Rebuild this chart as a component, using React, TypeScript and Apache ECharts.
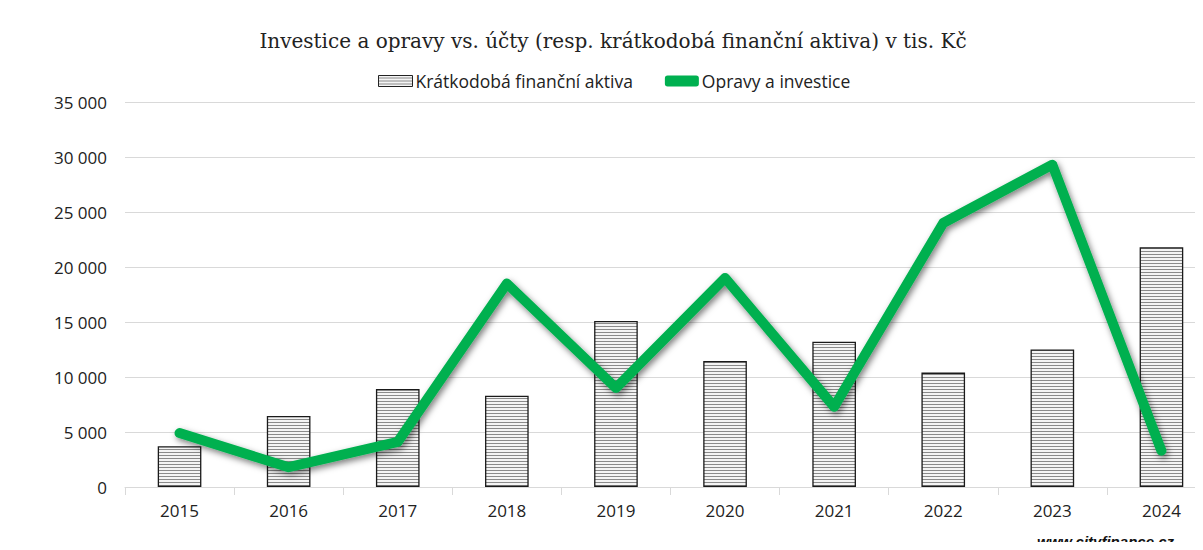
import React, { useEffect, useRef } from "react";
import * as echarts from "echarts";

const years = ["2015", "2016", "2017", "2018", "2019", "2020", "2021", "2022", "2023", "2024"];
const assets = [3700, 6450, 8900, 8300, 15100, 11450, 13200, 10400, 12500, 21800];
const investments = [4900, 1800, 4100, 18500, 9000, 19000, 7300, 24000, 29300, 3300];
const titleText = "Investice a opravy vs. účty (resp. krátkodobá finanční aktiva) v tis. Kč";
const assetsName = "Krátkodobá finanční aktiva";
const investName = "Opravy a investice";
const watermark = "www.cityfinance.cz";

function makePattern() {
  const c = document.createElement("canvas");
  c.width = 3;
  c.height = 3;
  const ctx = c.getContext("2d")!;
  ctx.fillStyle = "#f4f4f4";
  ctx.fillRect(0, 0, 3, 3);
  ctx.fillStyle = "#8a8a8a";
  ctx.fillRect(0, 2, 3, 1);
  return c;
}

export default function App() {
  const ref = useRef<HTMLDivElement>(null);
  useEffect(() => {
    const chart = echarts.init(ref.current!, null, { renderer: "svg" });
    const pattern = makePattern();
    const fmt = (v: number) => String(v).replace(/\B(?=(\d{3})+(?!\d))/g, " ");
    chart.setOption({
      animation: false,
      backgroundColor: "#ffffff",
      title: {
        text: titleText,
        left: 608,
        textAlign: "center",
        top: 26,
        textStyle: { fontFamily: "DejaVu Serif", fontSize: 20, fontWeight: "normal", color: "#222" },
      },
      legend: {
        top: 67,
        left: 373,
        itemGap: 32,
        itemWidth: 34,
        itemHeight: 11,
        textStyle: { fontFamily: "Open Sans", fontSize: 17.5, color: "#222", padding: [0, 0, 0, -2] },
        data: [
          { name: assetsName, icon: "rect", itemStyle: { color: { image: pattern, repeat: "repeat" }, borderColor: "#222", borderWidth: 1 } },
          { name: investName, icon: "roundRect", itemStyle: { color: "#00b050", borderWidth: 0 } },
        ],
      },
      grid: { left: 125, right: 9, top: 102, bottom: 63 },
      xAxis: {
        type: "category",
        data: years,
        boundaryGap: true,
        axisLine: { lineStyle: { color: "#d9d9d9" } },
        axisTick: { show: true, length: 8, lineStyle: { color: "#d9d9d9" } },
        axisLabel: { margin: 15, fontFamily: "Open Sans", fontSize: 17, color: "#222" },
      },
      yAxis: {
        type: "value",
        min: 0,
        max: 35000,
        interval: 5000,
        axisLine: { show: false },
        axisTick: { show: false },
        splitLine: { lineStyle: { color: "#d9d9d9" } },
        axisLabel: { margin: 18, fontFamily: "Open Sans", fontSize: 17, color: "#222", formatter: fmt },
      },
      series: [
        {
          name: assetsName,
          type: "bar",
          data: assets,
          barWidth: "40%",
          itemStyle: { color: { image: pattern, repeat: "repeat" }, borderColor: "#1a1a1a", borderWidth: 1.3 },
        },
        {
          name: investName,
          type: "line",
          data: investments,
          symbol: "none",
          color: "#00b050",
          lineStyle: {
            width: 10,
            color: "#00b050",
            cap: "round",
            join: "round",
            shadowColor: "rgba(0,0,0,0.5)",
            shadowBlur: 6,
            shadowOffsetX: 2,
            shadowOffsetY: 3,
          },
        },
      ],
      graphic: [
        { type: "line", shape: { x1: 7, y1: 0, x2: 7, y2: 550 }, style: { stroke: "#d9d9d9", lineWidth: 1 } },
        {
          type: "text",
          x: 1037,
          y: 541,
          style: { text: watermark, font: "italic bold 15px 'Liberation Sans'", fill: "#111", textVerticalAlign: "middle" },
        },
      ],
    });
    return () => chart.dispose();
  }, []);
  return (
    <div style={{ width: 1203, height: 550, margin: -8, overflow: "hidden", position: "relative" }}>
      <div ref={ref} style={{ width: 1225, height: 550 }} />
    </div>
  );
}
